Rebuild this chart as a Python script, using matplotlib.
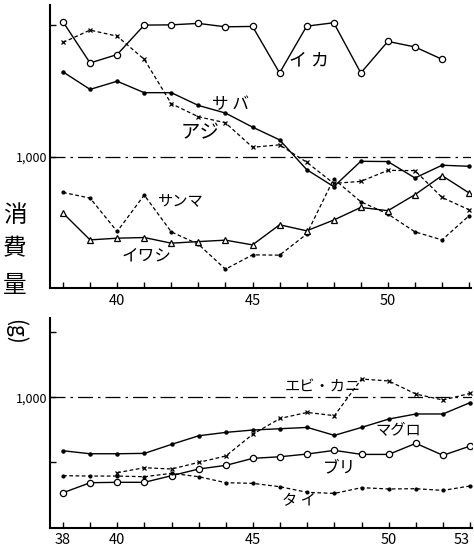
import numpy as np
import matplotlib.pyplot as plt

plt.rcParams['font.family'] = ['Noto Sans CJK JP', 'DejaVu Sans']

years = list(range(38, 54))

# upper panel (g)
ika = [2025, 1712, 1776, 2000, 2002, 2013, 1987, 1990, 1636, 1992, 2018, 1636, 1876, 1834, 1740]
aji = [1868, 1962, 1916, 1740, 1402, 1303, 1257, 1071, 1089, 957, 796, 811, 895, 893, 689, 595]
saba = [1644, 1511, 1573, 1486, 1486, 1389, 1331, 1224, 1127, 901, 771, 964, 962, 837, 934, 926]
sanma = [727, 684, 430, 707, 427, 333, 143, 252, 250, 410, 830, 656, 563, 427, 366, 550]
iwashi = [570, 366, 379, 384, 341, 353, 364, 328, 481, 435, 517, 613, 588, 710, 855, 723]

# lower panel (g)
maguro = [590, 567, 567, 570, 639, 705, 731, 749, 759, 769, 708, 769, 833, 872, 872, 959]
ebikani = [422, 460, 450, 501, 550, 718, 838, 884, 859, 1140, 1125, 1025, 979, 1030]
buri = [268, 345, 348, 348, 399, 450, 478, 532, 544, 565, 593, 562, 562, 647, 555, 626]
tai = [399, 396, 396, 391, 417, 391, 345, 340, 314, 271, 263, 307, 297, 299, 286, 320]

fig = plt.figure(figsize=(4.74, 5.48), dpi=100)
ax1 = fig.add_axes([50/474, 1-288/548, 421/474, 283/548])
ax2 = fig.add_axes([50/474, 1-527.7/548, 422/474, 209.7/548])

lw = 1.0
ax1.plot(years[:15], ika, 'k-', lw=lw, marker='o', ms=4.5, mfc='white', mew=0.9)
ax1.plot(years, aji, 'k--', lw=0.9, marker='x', ms=3.5, mew=0.9, dashes=(3, 2))
ax1.plot(years, saba, 'k-', lw=lw, marker='o', ms=2.2)
ax1.plot(years, sanma, 'k--', lw=0.9, marker='o', ms=2, dashes=(3, 2))
ax1.plot(years, iwashi, 'k-', lw=lw, marker='^', ms=5, mfc='white', mew=0.9)

ax2.plot(years, maguro, 'k-', lw=lw, marker='o', ms=2.2)
ax2.plot(years[2:], ebikani, 'k--', lw=0.9, marker='x', ms=3.5, mew=0.9, dashes=(3, 2))
ax2.plot(years, buri, 'k-', lw=lw, marker='o', ms=4.5, mfc='white', mew=0.9)
ax2.plot(years, tai, 'k--', lw=0.9, marker='o', ms=2, dashes=(3, 2))

for ax in (ax1, ax2):
    ax.axhline(1000, color='k', lw=0.9, ls=(0, (12, 4, 2, 4)))
    ax.spines['top'].set_visible(False)
    ax.spines['right'].set_visible(False)
    ax.spines['left'].set_linewidth(1.5)
    ax.spines['bottom'].set_linewidth(1.5)
    ax.set_xlim(37.52, 53.07)
    ax.set_xticks(years, minor=True)
    ax.tick_params(which='both', direction='in', length=4, width=1)
    ax.tick_params(axis='x', labelsize=10.5, pad=4)
    ax.tick_params(axis='y', labelsize=9, pad=2)

ax1.set_ylim(0, 2153)
ax1.set_yticks([1000, 2000])
ax1.set_yticklabels(['1,000', ''])
ax1.set_xticks([40, 45, 50])
ax1.set_xticklabels(['40', '45', '50'])

ax2.set_ylim(0, 1608)
ax2.set_yticks([500, 1000, 1500])
ax2.set_yticklabels(['', '1,000', ''])
ax2.set_xticks([38, 40, 45, 50, 53])
ax2.set_xticklabels(['38', '40', '45', '50', '53'])
ax2.get_xticklabels()[-1].set_ha('right')
ax2.get_xticklabels()[-1].set_x(53.2)

fs = 12
ax1.text(47.1, 1733, 'イ カ', fontsize=fs + 1, ha='center', va='center')
ax1.text(44.17, 1397, 'サ バ', fontsize=fs, ha='center', va='center')
ax1.text(43.06, 1183, 'アジ', fontsize=fs + 2, ha='center', va='center')
ax1.text(42.3, 664, 'サンマ', fontsize=fs - 1, ha='center', va='center')
ax1.text(41.1, 244, 'イワシ', fontsize=fs, ha='center', va='center')

ax2.text(47.57, 1079, 'エビ・カニ', fontsize=fs - 1, ha='center', va='center')
ax2.text(50.34, 744, 'マグロ', fontsize=fs - 1, ha='center', va='center')
ax2.text(48.2, 458, 'ブリ', fontsize=fs, ha='center', va='center')
ax2.text(46.7, 205, 'タ イ', fontsize=fs - 1, ha='center', va='center')

# vertical y label
for ch, ypix in [('消', 215), ('費', 249), ('量', 286)]:
    fig.text(15/474, 1-ypix/548, ch, fontsize=17, ha='center', va='center')
fig.text(15/474, 1-332/548, '(g)', fontsize=15, rotation=-90, ha='center', va='center')

fig.savefig('out.png', dpi=100)
